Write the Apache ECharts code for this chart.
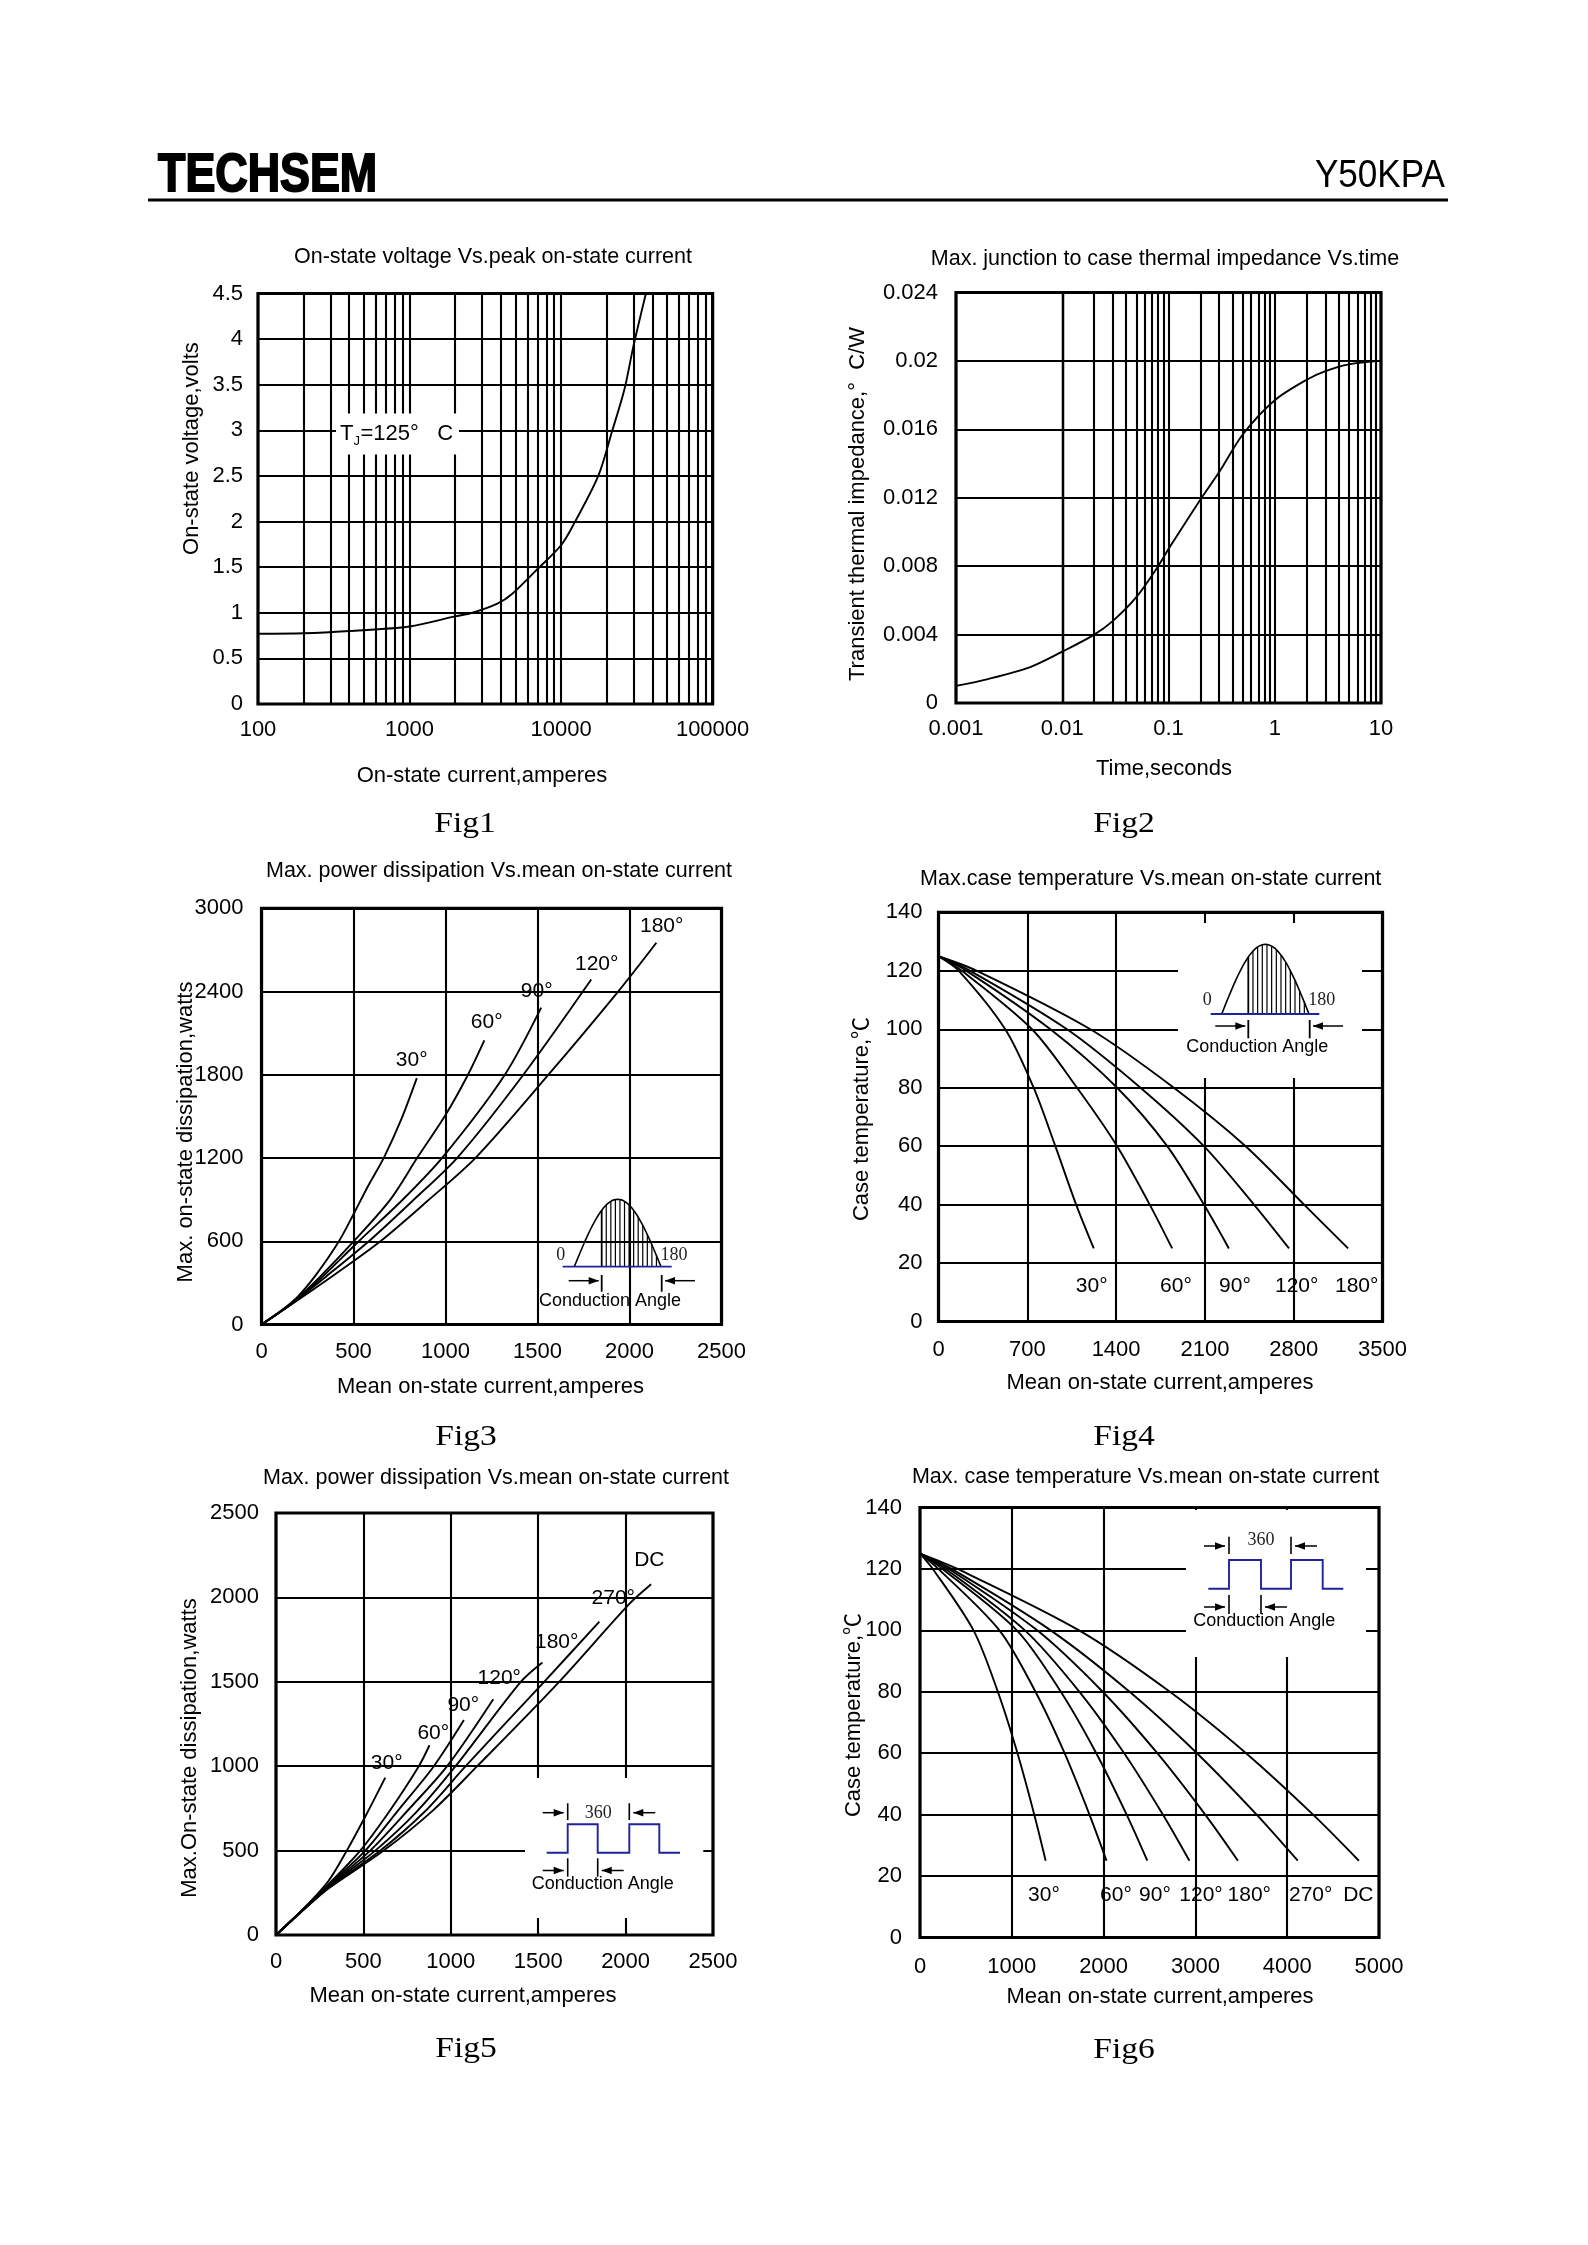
<!DOCTYPE html>
<html><head><meta charset="utf-8">
<script src="https://cdn.jsdelivr.net/npm/echarts@6/dist/echarts.min.js"></script>
<style>html,body{margin:0;padding:0;background:#fff}#c{width:1588px;height:2245px}</style>
</head><body><div id="c"></div>
<script>
// ================= DATA =================
// Fig1: on-state voltage vs peak on-state current (log x)
const fig1Current = [100, 200, 400, 1000, 2000, 2600, 3800, 4700, 6800, 10000, 12200, 17600, 21800, 26200, 30000, 36300];
const fig1Voltage = [0.77, 0.775, 0.80, 0.85, 0.96, 1.0, 1.1, 1.2, 1.46, 1.74, 1.98, 2.5, 3.0, 3.45, 3.92, 4.5];
// Fig2: transient thermal impedance vs time (log x)
const fig2Time = [0.001, 0.002, 0.005, 0.01, 0.02, 0.03, 0.05, 0.08, 0.1, 0.2, 0.3, 0.5, 1, 2, 3, 5, 10];
const fig2Impedance = [0.001, 0.0014, 0.0021, 0.003, 0.004, 0.0048, 0.0062, 0.008, 0.009, 0.0119, 0.0135, 0.0157, 0.0177, 0.0189, 0.0194, 0.0198, 0.0200];
// Fig3: power dissipation vs mean current (sine wave)
const fig3Angles = ['30°', '60°', '90°', '120°', '180°'];
const fig3A30 = [0, 100, 200, 300, 421, 503, 580, 666, 760, 844];
const fig3W30 = [0, 92, 205, 365, 600, 802, 1000, 1205, 1480, 1776];
const fig3A60 = [0, 158, 300, 503, 700, 848, 1000, 1120, 1211];
const fig3W60 = [0, 149, 320, 602, 900, 1205, 1510, 1795, 2048];
const fig3A90 = [0, 158, 300, 530, 760, 984, 1320, 1520];
const fig3W90 = [0, 145, 305, 602, 890, 1205, 1795, 2284];
const fig3A120 = [0, 158, 350, 585, 820, 1066, 1420, 1792];
const fig3W120 = [0, 145, 345, 602, 890, 1205, 1795, 2487];
const fig3A180 = [0, 158, 400, 648, 900, 1166, 1556, 1937, 2146];
const fig3W180 = [0, 140, 362, 602, 888, 1205, 1795, 2398, 2752];
// Fig4: case temperature vs mean current (sine wave)
const fig4Temp = [125, 120, 100, 80, 60, 40, 25];
const fig4A30 = [0, 160, 526, 750, 921, 1085, 1224];
const fig4A60 = [0, 184, 737, 1092, 1408, 1665, 1842];
const fig4A90 = [0, 220, 882, 1408, 1803, 2092, 2289];
const fig4A120 = [0, 250, 1013, 1592, 2092, 2487, 2763];
const fig4A180 = [0, 303, 1197, 1855, 2421, 2882, 3229];
// Fig5: power dissipation vs mean current (square wave)
const fig5Angles = ['30°', '60°', '90°', '120°', '180°', '270°', 'DC'];
const fig5A30 = [0, 138, 300, 405, 520, 625];
const fig5W30 = [0, 135, 320, 500, 720, 932];
const fig5A60 = [0, 138, 300, 482, 650, 817, 878];
const fig5W60 = [0, 135, 300, 500, 735, 1000, 1124];
const fig5A90 = [0, 138, 300, 511, 700, 903, 1075];
const fig5W90 = [0, 135, 295, 500, 740, 1000, 1273];
const fig5A120 = [0, 138, 300, 539, 760, 979, 1243];
const fig5W120 = [0, 135, 290, 500, 745, 1000, 1397];
const fig5A180 = [0, 138, 300, 568, 800, 1027, 1400, 1524];
const fig5W180 = [0, 133, 285, 500, 725, 1000, 1500, 1615];
const fig5A270 = [0, 138, 300, 597, 850, 1085, 1534, 1850];
const fig5W270 = [0, 132, 280, 500, 730, 1000, 1500, 1857];
const fig5ADC = [0, 138, 300, 616, 900, 1151, 1620, 2020, 2146];
const fig5WDC = [0, 130, 275, 500, 740, 1000, 1500, 1960, 2078];
// Fig6: case temperature vs mean current (square wave)
const fig6Temp = [125, 120, 100, 80, 60, 40, 25];
const fig6A30 = [0, 140, 583, 848, 1062, 1245, 1369];
const fig6A60 = [0, 200, 865, 1258, 1575, 1846, 2032];
const fig6A90 = [0, 245, 1055, 1534, 1920, 2251, 2476];
const fig6A120 = [0, 280, 1143, 1737, 2224, 2647, 2935];
const fig6A180 = [0, 315, 1277, 1990, 2585, 3107, 3463];
const fig6A270 = [0, 345, 1424, 2283, 3017, 3667, 4115];
const fig6ADC = [0, 410, 1733, 2722, 3552, 4282, 4781];

// ================= LAYOUT =================
const FONT = '"Liberation Sans", Arial, "Noto Sans CJK SC", sans-serif';
const SERIF = '"Liberation Serif", "Times New Roman", serif';
const plots = [
  {l: 258, t: 293.5, r: 712.6, b: 704},
  {l: 956, t: 292.5, r: 1381, b: 703},
  {l: 261.5, t: 908.3, r: 721.5, b: 1324.5},
  {l: 938.5, t: 912.4, r: 1382.5, b: 1321.5},
  {l: 276, t: 1513, r: 713, b: 1935},
  {l: 920, t: 1507.5, r: 1379, b: 1937.5}
];

const zip = (a, b) => a.map((v, i) => [v, b[i]]);
const chart = echarts.init(document.getElementById('c'), null, {renderer: 'canvas', width: 1588, height: 2245});

const grids = plots.map(p => ({
  left: p.l, top: p.t, width: p.r - p.l, height: p.b - p.t,
  show: true, borderColor: '#000', borderWidth: 3.2, backgroundColor: 'rgba(0,0,0,0)',
  containLabel: false, outerBoundsMode: 'none'
}));

const GW = 2.1;
const splitLine = {show: true, lineStyle: {color: '#000', width: GW, type: 'solid'}};
function axisBase(gi, margin, fmt) {
  return {
    gridIndex: gi, axisLine: {show: false}, axisTick: {show: false},
    splitLine: splitLine, minorSplitLine: {show: false},
    axisLabel: {show: true, color: '#000', fontSize: 22, fontFamily: FONT, margin: margin,
      showMinLabel: true, showMaxLabel: true, formatter: fmt}
  };
}
const fmtInt = v => String(Math.round(v));
const fmtSmall = v => (v === 0 ? '0' : String(+(+v).toPrecision(3)));

const xAxes = [
  Object.assign(axisBase(0, 15, fmtInt), {type: 'log', logBase: 10, min: 100, max: 100000}),
  Object.assign(axisBase(1, 15, fmtSmall), {type: 'log', logBase: 10, min: 0.001, max: 10}),
  Object.assign(axisBase(2, 16, fmtInt), {type: 'value', min: 0, max: 2500, interval: 500}),
  Object.assign(axisBase(3, 17, fmtInt), {type: 'value', min: 0, max: 3500, interval: 700}),
  Object.assign(axisBase(4, 16, fmtInt), {type: 'value', min: 0, max: 2500, interval: 500}),
  Object.assign(axisBase(5, 18, fmtInt), {type: 'value', min: 0, max: 5000, interval: 1000})
];
const yAxes = [
  Object.assign(axisBase(0, 15, v => String(+(+v).toFixed(1))), {type: 'value', min: 0, max: 4.5, interval: 0.5}),
  Object.assign(axisBase(1, 18, v => (v === 0 ? '0' : String(+(+v).toFixed(3)))), {type: 'value', min: 0, max: 0.024, interval: 0.004}),
  Object.assign(axisBase(2, 18, fmtInt), {type: 'value', min: 0, max: 3000, interval: 600}),
  Object.assign(axisBase(3, 16, fmtInt), {type: 'value', min: 0, max: 140, interval: 20}),
  Object.assign(axisBase(4, 17, fmtInt), {type: 'value', min: 0, max: 2500, interval: 500}),
  Object.assign(axisBase(5, 18, fmtInt), {type: 'value', min: 0, max: 140, interval: 20})
];

// minor (log) grid lines at 2..9 of every decade
function logMinors(start, decades) {
  const out = [];
  for (let d = 0; d < decades; d++) {
    const base = start * Math.pow(10, d);
    for (let m = 2; m <= 9; m++) out.push({xAxis: +(base * m).toPrecision(3)});
  }
  return out;
}
function minorMarkLine(data) {
  return {silent: true, symbol: ['none', 'none'], animation: false, label: {show: false},
    emphasis: {disabled: true}, lineStyle: {color: '#000', width: GW, type: 'solid'}, data: data};
}

const series = [];
function curve(gi, xs, ys, extra) {
  series.push(Object.assign({
    type: 'line', xAxisIndex: gi, yAxisIndex: gi, data: zip(xs, ys),
    showSymbol: false, symbol: 'none', smooth: 0.3, silent: true,
    animation: false, lineStyle: {color: '#000', width: 1.9}, z: 3
  }, extra || {}));
}
curve(0, fig1Current, fig1Voltage, {markLine: minorMarkLine(logMinors(100, 3))});
curve(1, fig2Time, fig2Impedance, {markLine: minorMarkLine(logMinors(0.001, 4))});
curve(2, fig3A30, fig3W30); curve(2, fig3A60, fig3W60); curve(2, fig3A90, fig3W90);
curve(2, fig3A120, fig3W120); curve(2, fig3A180, fig3W180);
[fig4A30, fig4A60, fig4A90, fig4A120, fig4A180].forEach(a => curve(3, a, fig4Temp));
curve(4, fig5A30, fig5W30); curve(4, fig5A60, fig5W60); curve(4, fig5A90, fig5W90);
curve(4, fig5A120, fig5W120); curve(4, fig5A180, fig5W180); curve(4, fig5A270, fig5W270);
curve(4, fig5ADC, fig5WDC);
[fig6A30, fig6A60, fig6A90, fig6A120, fig6A180, fig6A270, fig6ADC].forEach(a => curve(5, a, fig6Temp));

// ================= GRAPHIC (texts, insets, header) =================
const G = [];
function text(x, y, s, size, o) {
  o = o || {};
  const st = {text: s, x: 0, y: 0, fill: o.fill || '#000',
    font: (o.weight || 'normal') + ' ' + size + 'px ' + (o.family || FONT),
    textAlign: o.align || 'center', align: o.align || 'center',
    textVerticalAlign: o.va || 'middle', verticalAlign: o.va || 'middle'};
  if (o.stroke) { st.stroke = o.stroke; st.lineWidth = o.lw || 1; }
  G.push({type: 'text', x: x, y: y, rotation: o.rot || 0, scaleX: o.sx || 1, z: o.z || 120, silent: true, style: st});
}
function line(x1, y1, x2, y2, color, w) {
  G.push({type: 'line', z: 115, silent: true, shape: {x1: x1, y1: y1, x2: x2, y2: y2},
    style: {stroke: color || '#000', lineWidth: w || 1.5}});
}
function polyline(points, color, w) {
  G.push({type: 'polyline', z: 116, silent: true, shape: {points: points},
    style: {stroke: color || '#000', lineWidth: w || 1.5, fill: null}});
}
function whiteBox(x1, y1, x2, y2) {
  G.push({type: 'rect', z: 100, silent: true, shape: {x: x1, y: y1, width: x2 - x1, height: y2 - y1},
    style: {fill: '#fff', stroke: null}});
}
function arrow(x1, y, x2) {
  line(x1, y, x2, y, '#000', 1.5);
  const d = Math.sign(x2 - x1);
  G.push({type: 'polygon', z: 117, silent: true,
    shape: {points: [[x2, y], [x2 - d * 10, y - 3.8], [x2 - d * 10, y + 3.8]]}, style: {fill: '#000'}});
}
const BLUE = '#1f239a';
function sineInset(x0, x1, base, h, hatchFrom, n, lineL, lineR, tickY1, tickY2, arrowY, lbl0, lbl180, lblY, caption) {
  const pts = [];
  for (let k = 0; k <= 48; k++) pts.push([x0 + (x1 - x0) * k / 48, base - h * Math.sin(Math.PI * k / 48)]);
  polyline(pts, '#000', 1.6);
  for (let i = 0; i < n; i++) {
    const x = hatchFrom + (x1 - hatchFrom) * i / n;
    line(x, base, x, base - h * Math.sin(Math.PI * (x - x0) / (x1 - x0)), '#000', i === 0 ? 1.8 : 1.2);
  }
  polyline([[lineL, base], [lineR, base]], BLUE, 1.8);
  line(hatchFrom, tickY1, hatchFrom, tickY2, '#000', 1.8);
  line(x1 + 0.7, tickY1, x1 + 0.7, tickY2, '#000', 1.8);
  arrow(hatchFrom - 33, arrowY, hatchFrom - 3);
  arrow(x1 + 34, arrowY, x1 + 4);
  text(lbl0[0], lbl0[1], '0', 18, {family: SERIF, fill: '#222'});
  text(lbl180[0], lbl180[1], '180', 18, {family: SERIF, fill: '#222'});
  text(caption[0], caption[1], 'Conduction Angle', 18);
}
function squareInset(xs, yLow, yHigh, xEnd0, xEnd1, topY, tickTop, botY, tickBot, lbl360, caption) {
  polyline([[xEnd0, yLow], [xs[0], yLow], [xs[0], yHigh], [xs[1], yHigh], [xs[1], yLow],
    [xs[2], yLow], [xs[2], yHigh], [xs[3], yHigh], [xs[3], yLow], [xEnd1, yLow]], BLUE, 1.9);
  line(xs[0], tickTop[0], xs[0], tickTop[1], '#000', 1.6);
  line(xs[2], tickTop[0], xs[2], tickTop[1], '#000', 1.6);
  arrow(xs[0] - 25, topY, xs[0] - 4);
  arrow(xs[2] + 26, topY, xs[2] + 4);
  text(lbl360[0], lbl360[1], '360', 18, {family: SERIF, fill: '#222'});
  line(xs[0], tickBot[0], xs[0], tickBot[1], '#000', 1.6);
  line(xs[1], tickBot[0], xs[1], tickBot[1], '#000', 1.6);
  arrow(xs[0] - 25, botY, xs[0] - 4);
  arrow(xs[1] + 26, botY, xs[1] + 4);
  text(caption[0], caption[1], 'Conduction Angle', 18);
}

// header
text(158, 176, 'TECHSEM', 54, {weight: 'bold', align: 'left', sx: 0.83, stroke: '#000', lw: 2});
text(1445, 176, 'Y50KPA', 39, {align: 'right', sx: 0.9});
G.push({type: 'rect', z: 120, silent: true, shape: {x: 148, y: 198.5, width: 1300, height: 3}, style: {fill: '#000'}});

// titles
const TS = 21.5;
text(493, 257, 'On-state voltage Vs.peak on-state current', TS);
text(1165, 258.6, 'Max. junction to case thermal impedance Vs.time', TS);
text(499, 870.7, 'Max. power dissipation Vs.mean on-state current', TS);
text(1150.7, 878.6, 'Max.case temperature Vs.mean on-state current', TS);
text(496, 1478.5, 'Max. power dissipation Vs.mean on-state current', TS);
text(1145.5, 1477, 'Max. case temperature Vs.mean on-state current', TS);

// axis names
const NS = 22, ROT = Math.PI / 2;
text(482, 775.7, 'On-state current,amperes', NS);
text(192.4, 448.6, 'On-state voltage,volts', NS, {rot: ROT});
text(1164, 769, 'Time,seconds', NS);
text(858, 504, 'Transient thermal impedance,°  C/W', NS, {rot: ROT});
text(490.5, 1386.6, 'Mean on-state current,amperes', NS);
text(186, 1132, 'Max. on-state dissipation,watts', NS, {rot: ROT});
text(1160, 1382.6, 'Mean on-state current,amperes', NS);
text(861.7, 1119, 'Case temperature,℃', NS, {rot: ROT});
text(463, 1996, 'Mean on-state current,amperes', NS);
text(190, 1748, 'Max.On-state dissipation,watts', NS, {rot: ROT});
text(1160, 1996.6, 'Mean on-state current,amperes', NS);
text(853.8, 1715, 'Case temperature,℃', NS, {rot: ROT});

// figure captions
[['Fig1', 465, 824], ['Fig2', 1124, 824], ['Fig3', 466, 1437], ['Fig4', 1124, 1437], ['Fig5', 466, 2049], ['Fig6', 1124, 2050]]
  .forEach(f => text(f[1], f[2], f[0], 30, {family: SERIF, sx: 1.12}));

// Fig1 annotation
whiteBox(336, 413.6, 459, 454.6);
text(340, 434, 'T', 22, {align: 'left'});
text(353.5, 441, 'J', 13, {align: 'left'});
text(360.5, 434, '=125°   C', 22, {align: 'left'});

// Fig3 curve labels + inset
const LS = 21;
[[411.7, 1060.7], [486.7, 1022.7], [536.7, 991.7], [596.7, 964], [661.7, 926.7]]
  .forEach((p, i) => text(p[0], p[1], fig3Angles[i], LS));
sineInset(574.3, 661, 1266.7, 67.4, 601.7, 13, 562.7, 671.7, 1275, 1291.7, 1280.7,
  [560.7, 1255], [674, 1255], 0, [610, 1300.7]);

// Fig4 labels + inset
[1091.7, 1176, 1235, 1296.7, 1356.7].forEach((x, i) => text(x, 1286.7, fig3Angles[i], LS));
whiteBox(1178, 923, 1362, 1078);
sineInset(1221.7, 1309, 1014, 69.7, 1248.3, 13, 1210.7, 1319.3, 1020, 1038.3, 1026,
  [1207.3, 1000], [1321.7, 1000], 0, [1257.3, 1047.3]);

// Fig5 labels + inset
[[386.7, 1763.3], [433.3, 1733.3], [463.3, 1705], [499.3, 1678.3], [556.7, 1642.7], [613.3, 1598.3], [649.3, 1560.7]]
  .forEach((p, i) => text(p[0], p[1], fig5Angles[i], LS));
whiteBox(525, 1778, 703.3, 1918);
squareInset([567.7, 597.7, 629.3, 659.3], 1852.7, 1824.3, 546.7, 680, 1812.7, [1803.3, 1820], 1870.5, [1858.3, 1876.7],
  [598.3, 1813.3], [602.7, 1884.3]);

// Fig6 labels + inset
[1044, 1116, 1155, 1201, 1249.3, 1310.7, 1358.3].forEach((x, i) => text(x, 1895, fig5Angles[i], LS));
whiteBox(1186, 1510, 1366, 1657);
squareInset([1229, 1261, 1291, 1322.7], 1588.7, 1560, 1208.3, 1343.3, 1546, [1536.7, 1554], 1607, [1595, 1614],
  [1261, 1540.7], [1264.3, 1620.7]);

chart.setOption({
  animation: false,
  backgroundColor: '#fff',
  textStyle: {fontFamily: FONT},
  grid: grids,
  xAxis: xAxes,
  yAxis: yAxes,
  series: series,
  graphic: {elements: G}
});
</script></body></html>
